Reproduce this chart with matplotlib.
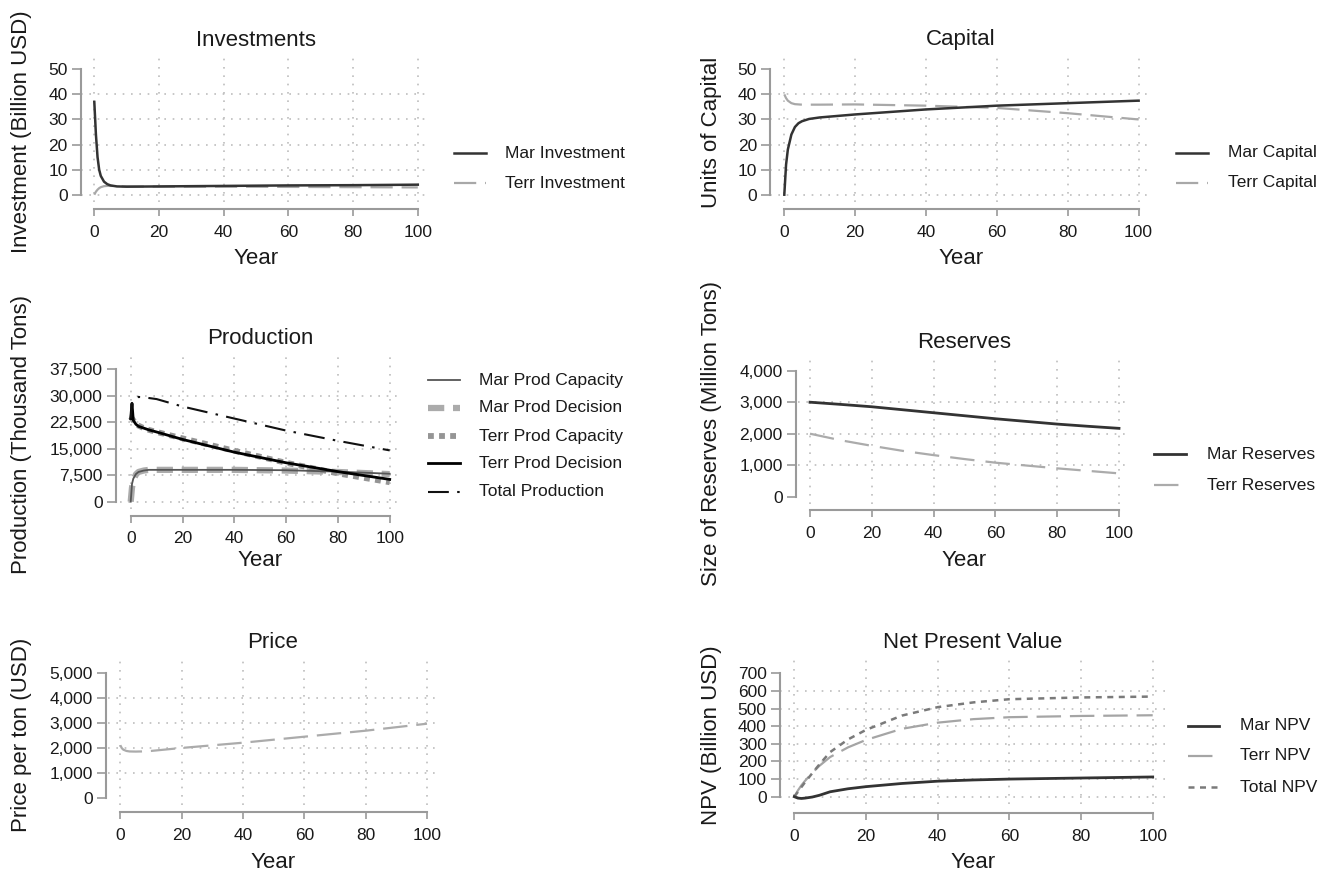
import matplotlib
matplotlib.use('Agg')
import matplotlib.pyplot as plt
from matplotlib.lines import Line2D
from matplotlib.ticker import FuncFormatter

plt.rcParams['font.family'] = ['Liberation Sans', 'DejaVu Sans']

# ---- data ----
inv_years = [0, 0.5, 1, 1.5, 2, 3, 4, 5, 7, 10, 20, 40, 60, 80, 100]
mar_inv = [37, 24, 15, 10, 7.5, 5.2, 4.2, 3.7, 3.3, 3.2, 3.3, 3.5, 3.7, 3.8, 4.0]
terr_inv = [0, 1.2, 2.0, 2.6, 3.0, 3.4, 3.5, 3.5, 3.4, 3.3, 3.2, 3.2, 3.1, 3.0, 2.9]

cap_years = [0, 0.5, 1, 2, 3, 4, 5, 7, 10, 20, 40, 60, 80, 100]
mar_cap = [0, 12, 18, 24, 27, 28.5, 29.3, 30.2, 30.8, 32, 34, 35.5, 36.5, 37.5]
terr_cap = [40, 38.5, 37.5, 36.5, 36.1, 36, 35.9, 35.9, 35.9, 36, 35.5, 34.6, 32.5, 30]

prod_years = [0, 0.5, 1, 2, 3, 5, 7, 10, 20, 40, 60, 80, 100]
mar_prod_cap = [0, 5000, 6500, 7800, 8400, 8800, 9000, 9000, 9000, 9000, 8900, 8500, 7900]
mar_prod_dec = [0, 4000, 6000, 7700, 8400, 8800, 9000, 9000, 9000, 9000, 8800, 8400, 7800]
terr_prod_cap = [24000, 23500, 23000, 22000, 21500, 20800, 20300, 19700, 17900, 14400, 11000, 8000, 5500]
terr_prod_dec = [23500, 27800, 23000, 21900, 21300, 20800, 20300, 19700, 17600, 14000, 11000, 8500, 6300]
total_prod = [23500, 28000, 28800, 29300, 29600, 29500, 29300, 29000, 26900, 23500, 20100, 17200, 14500]

res_years = [0, 10, 20, 30, 40, 50, 60, 70, 80, 90, 100]
mar_res = [3000, 2930, 2855, 2760, 2665, 2570, 2475, 2390, 2305, 2235, 2170]
terr_res = [2000, 1790, 1615, 1455, 1320, 1195, 1080, 990, 900, 820, 740]

price_years = [0, 0.5, 1, 2, 3, 5, 7, 10, 20, 40, 60, 80, 100]
price = [2100, 1980, 1920, 1870, 1850, 1845, 1850, 1870, 1990, 2200, 2440, 2680, 2960]

npv_years = [0, 1, 2, 3, 5, 7, 10, 15, 20, 30, 40, 50, 60, 80, 100]
mar_npv = [0, -8, -10, -8, -2, 8, 28, 45, 57, 75, 88, 95, 100, 106, 112]
terr_npv = [0, 35, 65, 90, 135, 175, 225, 280, 322, 385, 420, 440, 451, 458, 462]
total_npv = [0, 27, 55, 82, 133, 183, 253, 325, 379, 460, 508, 535, 553, 563, 568]

W, H = 1321, 873
fig = plt.figure(figsize=(W / 100, H / 100), dpi=100)

AXC = '#9a9a9a'
GRIDC = '#bdbdbd'
TXT = '#1a1a1a'


def fx(px):
    return px / W


def fy(py):
    return 1 - py / H


def panel(x0, x100, yline, y0px, ytoppx, yticks, ygrid, xline):
    ppx = (x100 - x0) / 100.
    left = x0 - 4 * ppx
    right = x100 + 4 * ppx
    top = ytoppx - 13
    bot = y0px + 7
    ylo, yhi = yticks[0], yticks[-1]
    ppy = (y0px - ytoppx) / (yhi - ylo)
    ax = fig.add_axes([fx(left), fy(bot), (right - left) / W, (bot - top) / H])
    ax.set_xlim(-4, 104)
    ax.set_ylim(ylo - 7 / ppy, yhi + 13 / ppy)
    ax.patch.set_visible(False)
    for s in ['top', 'right']:
        ax.spines[s].set_visible(False)
    for s in ['left', 'bottom']:
        ax.spines[s].set_color(AXC)
        ax.spines[s].set_linewidth(1.5)
    ax.spines['left'].set_position(('outward', max(left - yline, 0) * 0.72))
    ax.spines['bottom'].set_position(('outward', (xline - bot) * 0.72))
    ax.spines['left'].set_bounds(ylo, yhi)
    ax.spines['bottom'].set_bounds(0, 100)
    ax.set_xticks(range(0, 101, 20))
    ax.set_yticks(yticks)
    ax.yaxis.set_major_formatter(FuncFormatter(lambda v, p: f'{v:,.0f}'))
    ax.tick_params(axis='y', length=6.5, width=1.2, color=AXC, labelsize=12.5,
                   pad=3, labelcolor=TXT)
    ax.tick_params(axis='x', length=5, width=1.2, color=AXC, labelsize=12.5,
                   pad=6, labelcolor=TXT)
    for g in ygrid:
        ax.axhline(g, color=GRIDC, lw=1.2, ls=(0, (1, 4)), zorder=0.5)
    for v in range(0, 101, 20):
        ax.axvline(v, color=GRIDC, lw=1.2, ls=(0, (1, 4)), zorder=0.5)
    return ax


def texts(title, tx, ty, xly, ylab, ylx, yly):
    fig.text(fx(tx), fy(ty), title, ha='center', va='center', fontsize=16, color=TXT)
    fig.text(fx(tx), fy(xly), 'Year', ha='center', va='center', fontsize=16, color=TXT)
    fig.text(fx(ylx), fy(yly), ylab, ha='center', va='center', fontsize=16,
             rotation=90, color=TXT)


def legend(x1, x2, xt, rows, items):
    for (label, kw), y in zip(items, rows):
        fig.add_artist(Line2D([fx(x1), fx(x2)], [fy(y), fy(y)],
                              transform=fig.transFigure, **kw))
        fig.text(fx(xt), fy(y), label, ha='left', va='center', fontsize=12.5, color=TXT)


# styles
s_mar = dict(color='#333333', lw=1.8, ls='-')
s_terr = dict(color='#a8a8a8', lw=1.6, ls=(0, (10, 4)))

# Investments
ax = panel(94.3, 417.8, 80.7, 194.7, 69.3, [0, 10, 20, 30, 40, 50], [0, 10, 20, 30, 40], 209.3)
ax.plot(inv_years, terr_inv, **s_terr)
ax.plot(inv_years, mar_inv, **s_mar)
texts('Investments', 256, 40, 258, 'Investment (Billion USD)', 22, 132)
legend(454, 486, 505, [153, 183], [('Mar Investment', s_mar), ('Terr Investment', s_terr)])

# Capital
ax = panel(784.3, 1138.6, 770.7, 194.7, 69.3, [0, 10, 20, 30, 40, 50], [0, 10, 20, 30, 40], 209.3)
ax.plot(cap_years, terr_cap, **s_terr)
ax.plot(cap_years, mar_cap, **s_mar)
texts('Capital', 961, 40, 258, 'Units of Capital', 712, 132)
legend(1176, 1208, 1228, [153, 183], [('Mar Capital', s_mar), ('Terr Capital', s_terr)])

# Production
s_mpc = dict(color='#555555', lw=1.3, ls='-')
s_mpd = dict(color='#ababab', lw=4.5, ls=(0, (2.6, 1.4)), solid_capstyle='butt', dash_capstyle='butt')
s_tpc = dict(color='#959595', lw=4.2, ls=(0, (1.0, 0.9)), dash_capstyle='butt')
s_tpd = dict(color='#000000', lw=2.0, ls='-')
s_tot = dict(color='#111111', lw=1.5, ls=(0, (10, 4, 1.2, 4)))
s_tot_plot = dict(color='#111111', lw=1.5, ls=(2.4, (10, 4, 1.2, 4)))
ax = panel(130.7, 389.7, 115.7, 501.7, 369, [0, 7500, 15000, 22500, 30000, 37500],
           [0, 7500, 15000, 22500, 30000], 516)
ax.plot(prod_years, mar_prod_dec, **s_mpd)
ax.plot(prod_years, terr_prod_cap, **s_tpc)
ax.plot(prod_years, mar_prod_cap, **s_mpc)
ax.plot(prod_years, terr_prod_dec, **s_tpd)
ax.plot(prod_years, total_prod, **s_tot_plot)
texts('Production', 260, 339, 560, 'Production (Thousand Tons)', 22, 435)
legend(428, 460, 479, [380, 408, 436, 463, 492],
       [('Mar Prod Capacity', s_mpc), ('Mar Prod Decision', s_mpd),
        ('Terr Prod Capacity', s_tpc), ('Terr Prod Decision', s_tpd),
        ('Total Production', s_tot)])

# Reserves
s_mres = dict(color='#333333', lw=2.0, ls='-')
s_tres = dict(color='#ababab', lw=1.6, ls=(0, (11, 5)))
ax = panel(810, 1119, 795.7, 496.7, 370.7, [0, 1000, 2000, 3000, 4000], [1000, 2000, 3000], 510.3)
ax.plot(res_years, terr_res, **s_tres)
ax.plot(res_years, mar_res, **s_mres)
texts('Reserves', 964, 342, 560, 'Size of Reserves (Million Tons)', 712, 434)
legend(1154, 1186, 1207, [454, 485], [('Mar Reserves', s_mres), ('Terr Reserves', s_tres)])

# Price
s_price = dict(color='#ababab', lw=1.6, ls=(0, (11, 4)))
ax = panel(120.3, 427, 106, 797.7, 672.7, [0, 1000, 2000, 3000, 4000, 5000],
           [1000, 2000, 3000, 4000], 812.3)
ax.plot(price_years, price, **s_price)
texts('Price', 273, 643, 862, 'Price per ton (USD)', 22, 735)

# Net Present Value
s_mnpv = dict(color='#333333', lw=2.0, ls='-')
s_tnpv = dict(color='#a5a5a5', lw=1.6, ls=(0, (11, 4)))
s_totnpv = dict(color='#7a7a7a', lw=1.8, ls=(0, (2.4, 2.2)))
ax = panel(794.3, 1152.7, 780.7, 796.7, 673.3, [0, 100, 200, 300, 400, 500, 600, 700],
           [0, 100, 200, 300, 400, 500, 600], 813.3)
ax.plot(npv_years, terr_npv, **s_tnpv)
ax.plot(npv_years, total_npv, **s_totnpv)
ax.plot(npv_years, mar_npv, **s_mnpv)
texts('Net Present Value', 973, 643, 862, 'NPV (Billion USD)', 712, 735)
legend(1188, 1219, 1240, [726, 756, 787],
       [('Mar NPV', s_mnpv), ('Terr NPV', s_tnpv), ('Total NPV', s_totnpv)])

fig.savefig('out.png', dpi=100)
